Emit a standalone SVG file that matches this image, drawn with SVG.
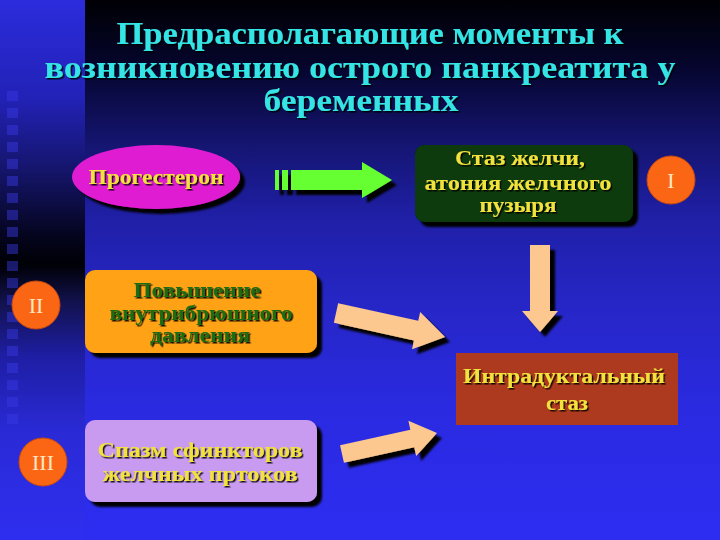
<svg xmlns="http://www.w3.org/2000/svg" xmlns:xlink="http://www.w3.org/1999/xlink" width="720" height="540" viewBox="0 0 720 540">
<defs>
<linearGradient id="bgMain" x1="0" y1="0" x2="0" y2="1">
<stop offset="0" stop-color="#000004"/>
<stop offset="0.12" stop-color="#05052c"/>
<stop offset="0.26" stop-color="#14146e"/>
<stop offset="0.4" stop-color="#1f1fa6"/>
<stop offset="0.56" stop-color="#2626c6"/>
<stop offset="0.75" stop-color="#2a2ae0"/>
<stop offset="1" stop-color="#2d2df2"/>
</linearGradient>
<linearGradient id="bgStrip" x1="0" y1="0" x2="0" y2="1">
<stop offset="0" stop-color="#2c2cdc"/>
<stop offset="0.18" stop-color="#2222b8"/>
<stop offset="0.32" stop-color="#141468"/>
<stop offset="0.44" stop-color="#04041c"/>
<stop offset="0.49" stop-color="#000006"/>
<stop offset="0.56" stop-color="#12124e"/>
<stop offset="0.66" stop-color="#1e1ea4"/>
<stop offset="0.8" stop-color="#2a2ad6"/>
<stop offset="1" stop-color="#2e2ef0"/>
</linearGradient>
<filter id="sh" x="-10%" y="-10%" width="130%" height="140%">
<feDropShadow dx="5" dy="5" stdDeviation="0.8" flood-color="#000" flood-opacity="1"/>
</filter>
<filter id="tsh" x="-5%" y="-20%" width="115%" height="150%">
<feDropShadow dx="1.5" dy="1.5" stdDeviation="0.6" flood-color="#000" flood-opacity="0.9"/>
</filter>
<style>
.title{font-family:"Liberation Serif","Times New Roman",serif;font-weight:bold;font-size:31px;fill:#36e4e4;text-anchor:middle}
.lbl{font-family:"Liberation Serif","Times New Roman",serif;font-weight:bold;font-size:20px;text-anchor:middle}
.yel{fill:#f2e23c}
.grn{fill:#1c6c14}
.num{font-family:"Liberation Serif","Times New Roman",serif;font-size:22px;fill:#ffe6c6;text-anchor:middle}
.badge{fill:#fb6614;stroke:#c84a10;stroke-width:1}
.peach{fill:#fcc890}
.sq{fill:#3a3ae6;opacity:0.45}
</style>
</defs>

<!-- background -->
<rect x="0" y="0" width="720" height="540" fill="url(#bgMain)"/>
<rect x="0" y="0" width="85" height="540" fill="url(#bgStrip)"/>
<g id="strip-squares">
<rect class="sq" x="7" y="91" width="11" height="10"/>
<rect class="sq" x="7" y="108" width="11" height="10"/>
<rect class="sq" x="7" y="125" width="11" height="10"/>
<rect class="sq" x="7" y="142" width="11" height="10"/>
<rect class="sq" x="7" y="159" width="11" height="10"/>
<rect class="sq" x="7" y="176" width="11" height="10"/>
<rect class="sq" x="7" y="193" width="11" height="10"/>
<rect class="sq" x="7" y="210" width="11" height="10"/>
<rect class="sq" x="7" y="227" width="11" height="10"/>
<rect class="sq" x="7" y="244" width="11" height="10"/>
<rect class="sq" x="7" y="261" width="11" height="10"/>
<rect class="sq" x="7" y="278" width="11" height="10"/>
<rect class="sq" x="7" y="295" width="11" height="10"/>
<rect class="sq" x="7" y="312" width="11" height="10"/>
<rect class="sq" x="7" y="329" width="11" height="10"/>
<rect class="sq" x="7" y="346" width="11" height="10"/>
<rect class="sq" x="7" y="363" width="11" height="10"/>
<rect class="sq" x="7" y="380" width="11" height="10"/>
<rect class="sq" x="7" y="397" width="11" height="10"/>
<rect class="sq" x="7" y="414" width="11" height="10"/>
</g>

<!-- title -->
<g id="title" filter="url(#tsh)">
<text class="title" x="370" y="44" textLength="507" lengthAdjust="spacingAndGlyphs">Предрасполагающие моменты к</text>
<text class="title" x="360" y="78" textLength="631" lengthAdjust="spacingAndGlyphs">возникновению острого панкреатита у</text>
<text class="title" x="361" y="111" textLength="195" lengthAdjust="spacingAndGlyphs">беременных</text>
</g>

<!-- connectors -->
<g id="connectors">
<g id="arrow-green" filter="url(#sh)" fill="#66ff33">
<rect x="275" y="170" width="4" height="20"/>
<rect x="282" y="170" width="6" height="20"/>
<polygon points="291,170 362,170 362,162 392,180 362,198 362,190 291,190"/>
</g>
<g id="arrow-down" filter="url(#sh)">
<polygon class="peach" points="530,245 550,245 550,311 558,311 540,332 522,311 530,311"/>
</g>
<g id="arrow-pressure" filter="url(#sh)">
<polygon class="peach" transform="translate(336,313) rotate(12.4)" points="0,-10 82,-10 82,-19 111.6,0 82,19 82,10 0,10"/>
</g>
<g id="arrow-spasm" filter="url(#sh)">
<polygon class="peach" transform="translate(342,454) rotate(-12.5)" points="0,-9 72,-9 72,-18 97.3,0 72,18 72,9 0,9"/>
</g>
</g>

<!-- nodes -->
<g id="node-progesterone">
<ellipse cx="156" cy="177" rx="84" ry="32" fill="#e01ed2" filter="url(#sh)"/>
<text class="lbl yel" x="156" y="184" textLength="135" lengthAdjust="spacingAndGlyphs" filter="url(#tsh)">Прогестерон</text>
</g>

<g id="node-bile-stasis">
<rect x="415" y="145" width="218" height="77" rx="9" fill="#073a07" filter="url(#sh)"/>
<g filter="url(#tsh)">
<text class="lbl yel" x="520" y="165" textLength="130" lengthAdjust="spacingAndGlyphs">Стаз желчи,</text>
<text class="lbl yel" x="518" y="190" textLength="187" lengthAdjust="spacingAndGlyphs">атония желчного</text>
<text class="lbl yel" x="518" y="212" textLength="77" lengthAdjust="spacingAndGlyphs">пузыря</text>
</g>
</g>

<g id="badge-I">
<circle class="badge" cx="671" cy="180" r="24"/>
<text class="num" x="671" y="188">I</text>
</g>

<g id="node-pressure">
<rect x="85" y="270" width="232" height="83" rx="10" fill="#ffa212" filter="url(#sh)"/>
<g filter="url(#tsh)">
<text class="lbl grn" x="197" y="297" textLength="127" lengthAdjust="spacingAndGlyphs">Повышение</text>
<text class="lbl grn" x="201" y="320" textLength="183" lengthAdjust="spacingAndGlyphs">внутрибрюшного</text>
<text class="lbl grn" x="200" y="342" textLength="100" lengthAdjust="spacingAndGlyphs">давления</text>
</g>
</g>

<g id="badge-II">
<circle class="badge" cx="36" cy="305" r="24"/>
<text class="num" x="36" y="313">II</text>
</g>

<g id="node-intraductal">
<rect x="456" y="353" width="222" height="72" fill="#ad3a1e"/>
<g filter="url(#tsh)">
<text class="lbl yel" x="564" y="383" textLength="202" lengthAdjust="spacingAndGlyphs">Интрадуктальный</text>
<text class="lbl yel" x="567" y="410" textLength="42" lengthAdjust="spacingAndGlyphs">стаз</text>
</g>
</g>

<g id="node-spasm">
<rect x="85" y="420" width="232" height="82" rx="10" fill="#c89af0" filter="url(#sh)"/>
<g filter="url(#tsh)">
<text class="lbl yel" x="200" y="457" textLength="205" lengthAdjust="spacingAndGlyphs">Спазм сфинкторов</text>
<text class="lbl yel" x="200" y="481" textLength="195" lengthAdjust="spacingAndGlyphs">желчных пртоков</text>
</g>
</g>

<g id="badge-III">
<circle class="badge" cx="43" cy="462" r="24"/>
<text class="num" x="43" y="470">III</text>
</g>
</svg>
